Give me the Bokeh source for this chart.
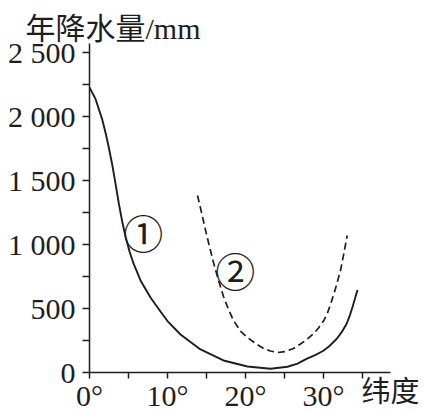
from bokeh.plotting import figure
from bokeh.models import Range1d, FixedTicker
from bokeh.embed import file_html
from bokeh.resources import INLINE
from bokeh.core.properties import value

# Curve ① (solid)
lat1 = [0, 0.77, 1.63, 2.05, 2.47, 2.91, 3.33, 3.76, 4.19, 4.62, 5.13, 5.64, 6.54, 7.82,
        9.1, 10.0, 11.67, 14.23, 17.18, 20.26, 23.2, 25.38, 26.67, 27.82, 28.85, 29.94,
        30.77, 31.67, 32.31, 32.95, 33.33, 33.72, 34.04, 34.36]
rain1 = [2227, 2137, 1977, 1875, 1760, 1625, 1477, 1320, 1180, 1063, 945, 852, 719, 586,
         477, 402, 297, 180, 94, 47, 29, 45, 70, 107, 134, 168,
         207, 262, 313, 379, 438, 512, 578, 645]

# Curve ② (dashed)
lat2 = [13.85, 14.36, 14.87, 15.38, 15.9, 16.54, 17.18, 17.82, 18.46, 19.36, 20.26, 21.28,
        22.31, 23.2, 24.1, 25.13, 26.15, 27.05, 27.95, 28.76, 29.36, 30.04, 30.51, 30.9,
        31.54, 32.18, 32.6, 33.04]
rain2 = [1383, 1250, 1113, 984, 859, 719, 594, 492, 406, 324, 273, 227,
         188, 168, 156, 164, 188, 223, 262, 305, 348, 406, 465, 531,
         656, 797, 927, 1070]

x_ticks = [0, 10, 20, 30]
x_tick_labels = ["0°", "10°", "20°", "30°"]
x_minor = [5, 15, 25, 35]
y_ticks = [0, 500, 1000, 1500, 2000, 2500]
y_tick_labels = ["0", "500", "1 000", "1 500", "2 000", "2 500"]
y_minor = [250, 750, 1250, 1750, 2250]

y_title = "年降水量/mm"
x_title = "纬度"
curve_labels = ["①", "②"]
curve_label_x = [6.9, 18.7]
curve_label_y = [1094, 797]

INK = "#1e1e1e"
SERIF = "Liberation Serif"
MIXED = "'Liberation Serif', 'Noto Sans CJK SC'"

p = figure(frame_width=301, frame_height=329, output_backend="svg", toolbar_location=None,
           x_range=Range1d(0, 38.59), y_range=Range1d(0, 2570),
           min_border_left=89, min_border_top=43, min_border_right=34, min_border_bottom=40,
           background_fill_color="white", border_fill_color="white")
p.outline_line_color = None
p.xgrid.grid_line_color = None
p.ygrid.grid_line_color = None

p.line(lat1, rain1, line_color=INK, line_width=1.9)
p.line(lat2, rain2, line_color=INK, line_width=1.7, line_dash="7 4")

p.text(x=curve_label_x, y=curve_label_y, text=curve_labels, text_align="center",
       text_baseline="middle", text_font=value("Noto Sans CJK SC"),
       text_font_size="40px", text_color=INK)

xa = p.xaxis[0]
xa.ticker = FixedTicker(ticks=x_ticks, minor_ticks=x_minor)
xa.major_label_overrides = {t: l for t, l in zip(x_ticks, x_tick_labels)}
ya = p.yaxis[0]
ya.ticker = FixedTicker(ticks=y_ticks, minor_ticks=y_minor)
ya.major_label_overrides = {t: l for t, l in zip(y_ticks, y_tick_labels)}

for ax, tl in ((xa, 6), (ya, 7)):
    ax.axis_line_color = INK
    ax.axis_line_width = 1.5
    ax.major_tick_line_color = INK
    ax.minor_tick_line_color = INK
    ax.major_tick_line_width = 1.5
    ax.minor_tick_line_width = 1.5
    ax.major_tick_in = 0
    ax.minor_tick_in = 0
    ax.major_tick_out = tl
    ax.minor_tick_out = tl
    ax.major_label_text_font = SERIF
    ax.major_label_text_font_size = "30px"
    ax.major_label_text_color = INK
xa.major_label_standoff = 0
ya.major_label_standoff = 7

xa.axis_label = x_title
xa.axis_label_align = "end"
xa.axis_label_standoff = -47
xa.axis_label_text_font = "Noto Sans CJK SC"
xa.axis_label_text_font_size = "29px"
xa.axis_label_text_font_style = "normal"
xa.axis_label_text_color = INK

p.title.text = y_title
p.title.align = "left"
p.title.offset = -64
p.title.vertical_align = "top"
p.title.standoff = -6
p.title.text_font = MIXED
p.title.text_font_size = "30px"
p.title.text_font_style = "normal"
p.title.text_color = INK

open("out.html", "w").write(file_html(p, INLINE))
